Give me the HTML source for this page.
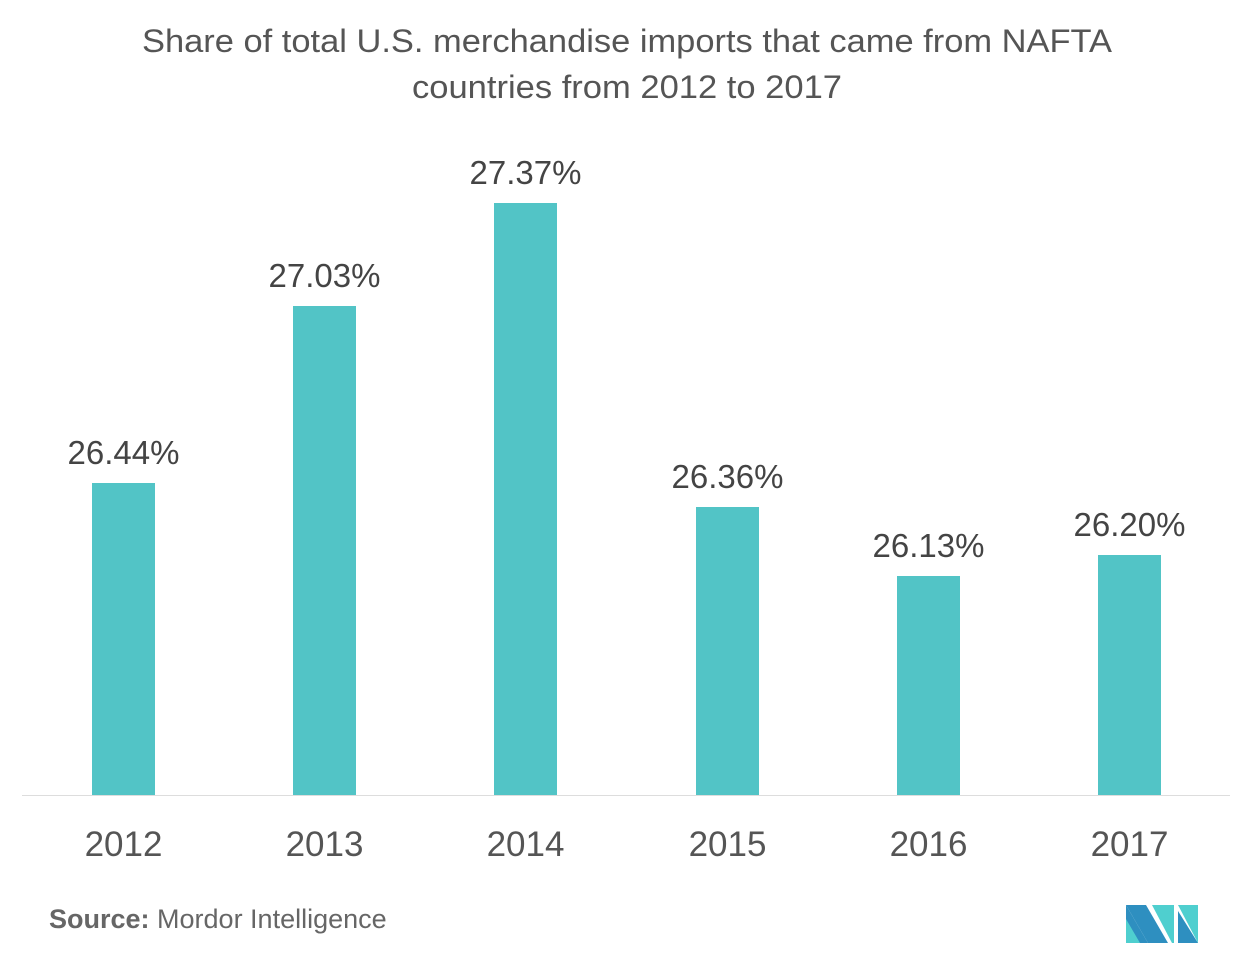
<!DOCTYPE html>
<html><head><style>
body{margin:0;width:1253px;height:955px;background:#fff;overflow:hidden;font-family:"Liberation Sans",sans-serif;}
</style></head><body>
<svg width="1253" height="955" xmlns="http://www.w3.org/2000/svg" font-family="Liberation Sans, sans-serif">
<text x="142" y="52" font-size="32" fill="#555" textLength="970" lengthAdjust="spacingAndGlyphs">Share of total U.S. merchandise imports that came from NAFTA</text>
<text x="412" y="98" font-size="32" fill="#555" textLength="430" lengthAdjust="spacingAndGlyphs">countries from 2012 to 2017</text>
<line x1="22" y1="795.5" x2="1230" y2="795.5" stroke="#ddd" stroke-width="1"/>
<g fill="#52c4c6">
<rect x="92" y="483" width="63" height="312"/>
<rect x="293" y="306" width="63" height="489"/>
<rect x="494" y="203" width="63" height="592"/>
<rect x="696" y="507" width="63" height="288"/>
<rect x="897" y="576" width="63" height="219"/>
<rect x="1098" y="555" width="63" height="240"/>
</g>
<g font-size="33" fill="#444" text-anchor="middle">
<text x="123.5" y="464">26.44%</text>
<text x="324.5" y="287">27.03%</text>
<text x="525.5" y="184">27.37%</text>
<text x="727.5" y="488">26.36%</text>
<text x="928.5" y="557">26.13%</text>
<text x="1129.5" y="536">26.20%</text>
</g>
<g font-size="35" fill="#555" text-anchor="middle">
<text x="123.5" y="856">2012</text>
<text x="324.5" y="856">2013</text>
<text x="525.5" y="856">2014</text>
<text x="727.5" y="856">2015</text>
<text x="928.5" y="856">2016</text>
<text x="1129.5" y="856">2017</text>
</g>
<text x="49" y="928" font-size="27" fill="#666"><tspan font-weight="bold">Source:</tspan> Mordor Intelligence</text>
<g transform="translate(1126,905)">
<polygon points="0,0 20,0 42,38 22,38 0,0" fill="#2e8fc0"/>
<polygon points="0,0 0,38 22,38" fill="#2e8fc0"/>
<polygon points="0,14 0,38 14,38" fill="#4fcfcf"/>
<polygon points="26,0 48,0 48,38 46,38" fill="#4fcfcf"/>
<polygon points="52,0 72,0 72,38" fill="#4fcfcf"/>
<polygon points="52,6 72,38 52,38" fill="#2e8fc0"/>
</g>
</svg>
</body></html>
